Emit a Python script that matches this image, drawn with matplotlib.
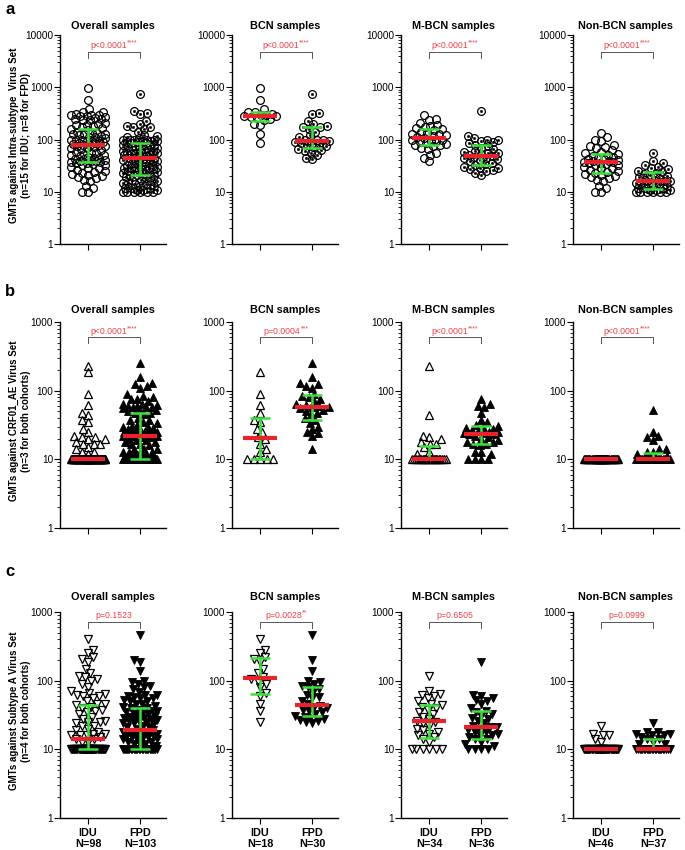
import numpy as np
import matplotlib
matplotlib.use("Agg")
import matplotlib.pyplot as plt
from matplotlib.ticker import LogLocator, NullFormatter, FixedLocator, FixedFormatter
from matplotlib.transforms import blended_transform_factory, offset_copy

plt.rcParams['font.family'] = ['Liberation Sans', 'DejaVu Sans']

# ---------------- data ----------------
groups = ["IDU", "FPD"]
n_labels = {"Overall": ("N=98", "N=103"), "BCN": ("N=18", "N=30"),
            "M-BCN": ("N=34", "N=36"), "Non-BCN": ("N=46", "N=37")}
panel_titles = ["Overall samples", "BCN samples", "M-BCN samples", "Non-BCN samples"]

# Row a: Intra-subtype virus set
a_bcn_idu = [950, 570, 390, 330, 330, 310, 300, 290, 280, 280, 270, 260, 250, 240, 200, 190, 130, 85]
a_bcn_fpd = [730, 320, 310, 230, 200, 185, 175, 170, 160, 140, 120, 110, 100, 98, 96, 94, 92, 90, 85, 80,
             78, 75, 72, 65, 62, 60, 55, 50, 45, 42]
a_mbcn_idu = [290, 250, 240, 210, 190, 180, 170, 165, 160, 150, 140, 135, 130, 125, 120, 115, 110, 105, 100, 98,
              95, 92, 90, 85, 82, 80, 78, 75, 70, 65, 55, 50, 45, 38]
a_mbcn_fpd = [350, 115, 105, 100, 98, 95, 90, 85, 80, 75, 70, 65, 60, 58, 56, 54, 52, 50, 48, 46,
              45, 44, 42, 40, 38, 36, 34, 32, 30, 29, 28, 27, 26, 25, 23, 21]
a_non_idu = [135, 110, 100, 95, 80, 75, 72, 68, 62, 58, 55, 52, 50, 48, 46, 45, 43, 42, 40, 39,
             38, 37, 37, 36, 35, 34, 33, 32, 30, 29, 28, 26, 25, 24, 23, 22, 21, 20, 19, 18,
             17, 16, 13, 12, 10, 10]
a_non_fpd = [55, 38, 35, 32, 30, 28, 27, 25, 24, 23, 22, 21, 20, 19, 18, 17, 17, 16, 16, 15,
             15, 14, 14, 13, 13, 12, 12, 12, 11, 11, 11, 10, 10, 10, 10, 10, 10]

# Row b: CRF01_AE virus set
b_bcn_idu = [185, 90, 62, 48, 38, 35, 28, 25, 21, 20, 17, 14, 13, 10, 10, 10, 10, 10]
b_bcn_fpd = [255, 160, 130, 125, 115, 110, 90, 85, 80, 75, 70, 65, 62, 60, 58, 57, 55, 52, 50, 48,
             45, 40, 38, 34, 30, 28, 25, 24, 22, 14]
b_mbcn_idu = [230, 44, 22, 21, 20, 18, 17, 17, 15, 13, 12, 10, 10, 10, 10, 10, 10, 10, 10, 10,
              10, 10, 10, 10, 10, 10, 10, 10, 10, 10, 10, 10, 10, 10]
b_mbcn_fpd = [75, 65, 60, 58, 48, 38, 35, 32, 31, 30, 29, 28, 27, 26, 25, 25, 24, 24, 23, 23,
              22, 21, 20, 19, 18, 18, 17, 17, 16, 13, 13, 12, 10, 10, 10, 10]
b_non_idu = [10, 10, 10, 10, 10, 10, 10, 10, 10, 10, 10, 10, 10, 10, 10, 10, 10, 10, 10, 10,
             10, 10, 10, 10, 10, 10, 10, 10, 10, 10, 10, 10, 10, 10, 10, 10, 10, 10, 10, 10,
             10, 10, 10, 10, 10, 10]
b_non_fpd = [53, 25, 22, 21, 19, 14, 14, 13, 13, 12, 11, 10, 10, 10, 10, 10, 10, 10, 10, 10,
             10, 10, 10, 10, 10, 10, 10, 10, 10, 10, 10, 10, 10, 10, 10, 10, 10]

# Row c: Subtype A virus set
c_bcn_idu = [410, 280, 250, 220, 210, 190, 150, 128, 112, 105, 100, 90, 82, 66, 60, 46, 36, 25]
c_bcn_fpd = [470, 200, 140, 100, 95, 90, 85, 80, 75, 68, 62, 58, 55, 50, 45, 43, 42, 40, 38, 36,
             35, 33, 31, 30, 29, 28, 27, 26, 25, 24]
c_mbcn_idu = [115, 70, 65, 62, 60, 55, 50, 46, 44, 42, 40, 38, 35, 33, 30, 28, 26, 25, 24, 22,
              20, 19, 18, 17, 16, 15, 14, 13, 10, 10, 10, 10, 10, 10]
c_mbcn_fpd = [185, 62, 60, 55, 52, 50, 45, 40, 36, 35, 33, 31, 29, 28, 26, 24, 22, 21, 21, 20,
              19, 18, 18, 17, 16, 16, 15, 14, 14, 13, 12, 11, 10, 10, 10, 10]
c_non_idu = [22, 17, 16, 16, 14, 13, 10, 10, 10, 10, 10, 10, 10, 10, 10, 10, 10, 10, 10, 10,
             10, 10, 10, 10, 10, 10, 10, 10, 10, 10, 10, 10, 10, 10, 10, 10, 10, 10, 10, 10,
             10, 10, 10, 10, 10, 10]
c_non_fpd = [24, 18, 18, 17, 17, 16, 16, 15, 14, 14, 13, 12, 12, 10, 10, 10, 10, 10, 10, 10,
             10, 10, 10, 10, 10, 10, 10, 10, 10, 10, 10, 10, 10, 10, 10, 10, 10]

p_texts = [
    ["p<0.0001", "p<0.0001", "p<0.0001", "p<0.0001"],
    ["p<0.0001", "p=0.0004", "p<0.0001", "p<0.0001"],
    ["p=0.1523", "p=0.0028", "p=0.6505", "p=0.0999"],
]
p_stars = [
    ["****", "****", "****", "****"],
    ["****", "***", "****", "****"],
    ["", "**", "", ""],
]
ylabels = [
    "GMTs against Intra-subtype  Virus Set\n(n=15 for IDU; n=8 for FPD)",
    "GMTs against CRF01_AE Virus Set\n(n=3 for both cohorts)",
    "GMTs against Subtype A Virus Set\n(n=4 for both cohorts)",
]
panel_letters = ["a", "b", "c"]

rows = [
    [(a_bcn_idu, a_bcn_fpd), (a_mbcn_idu, a_mbcn_fpd), (a_non_idu, a_non_fpd)],
    [(b_bcn_idu, b_bcn_fpd), (b_mbcn_idu, b_mbcn_fpd), (b_non_idu, b_non_fpd)],
    [(c_bcn_idu, c_bcn_fpd), (c_mbcn_idu, c_mbcn_fpd), (c_non_idu, c_non_fpd)],
]

# ---------------- layout ----------------
W, H = 685, 850
fig = plt.figure(figsize=(W / 100, H / 100), dpi=100)
renderer = fig.canvas.get_renderer()
col_left = [60, 232, 401, 573]
ax_w = 106
row_geom = [(35, 244, 10000), (322, 528, 1000), (612, 818, 1000)]
# offsets in px below axis top: p-text, bracket, bracket legs ; title offset above
row_brk = [(10, 17, 23, 9), (9, 15, 21, 12), (3, 10, 16, 15)]
markers = [("o", "o"), ("^", "^"), ("v", "v")]

RED = "#e8232b"
GREEN = "#3be03b"
PRED = "#f0404a"


def swarm(ax, xc, vals, diam=6.3, maxhalf=17):
    vals = np.asarray(vals, float)
    pts = ax.transData.transform(np.column_stack([np.full(len(vals), xc), vals]))
    ys = pts[:, 1]
    x0 = pts[0, 0]
    ks = np.arange(0.5, maxhalf + 0.01, 0.5)
    cA = [0.0]
    cB = [0.0]
    for k in ks:
        cA += [k, -k]
        cB += [-k, k]
    cA = np.array(cA)
    cB = np.array(cB)
    order = np.argsort(vals, kind="stable")
    px, py = [], []
    offs = np.zeros(len(vals))
    for j, i in enumerate(order):
        y = ys[i]
        cands = cA if j % 2 == 0 else cB
        c = 0.0
        if px:
            PX = np.array(px)
            PY = np.array(py)
            near = np.abs(PY - y) < diam
            if near.any():
                d = np.sqrt((PX[near][None, :] - cands[:, None]) ** 2 +
                            (PY[near][None, :] - y) ** 2).min(axis=1)
                ok = np.where(d >= diam)[0]
                c = cands[ok[0]] if len(ok) else cands[np.argmax(d)]
        offs[i] = c
        px.append(c)
        py.append(y)
    xd = ax.transData.inverted().transform(np.column_stack([x0 + offs, ys]))[:, 0]
    return xd


for r in range(3):
    top, bot, ymax = row_geom[r]
    hpx = bot - top
    subsets = rows[r]
    overall = (subsets[0][0] + subsets[1][0] + subsets[2][0],
               subsets[0][1] + subsets[1][1] + subsets[2][1])
    panels = [overall] + subsets
    keys = ["Overall", "BCN", "M-BCN", "Non-BCN"]
    for c in range(4):
        ax = fig.add_axes([col_left[c] / W, 1 - bot / H, ax_w / W, hpx / H])
        ax.set_yscale("log")
        ax.set_ylim(1, ymax)
        ax.set_xlim(0.46, 2.5)
        for s in ["top", "right"]:
            ax.spines[s].set_visible(False)
        for s in ["left", "bottom"]:
            ax.spines[s].set_linewidth(1.0)
        decs = [10 ** k for k in range(int(np.log10(ymax)) + 1)]
        ax.yaxis.set_major_locator(FixedLocator(decs))
        ax.yaxis.set_major_formatter(FixedFormatter([str(d) for d in decs]))
        ax.yaxis.set_minor_locator(LogLocator(base=10, subs=np.arange(2, 10)))
        ax.yaxis.set_minor_formatter(NullFormatter())
        ax.tick_params(axis="y", which="major", direction="out", length=4, width=0.8,
                       labelsize=7.2, pad=1)
        ax.tick_params(axis="y", which="minor", direction="out", length=2, width=0.6)
        ax.set_xticks([1, 2])
        ax.tick_params(axis="x", direction="out", length=4, width=0.8, pad=3)
        if r == 2:
            labs = n_labels[keys[c]]
            ax.set_xticklabels([f"{groups[0]}\n{labs[0]}", f"{groups[1]}\n{labs[1]}"],
                               fontsize=7.8, fontweight="bold", linespacing=1.15)
        else:
            ax.set_xticklabels([])

        for g in range(2):
            xc = g + 1
            vals = np.asarray(panels[c][g], float)
            xs = swarm(ax, xc, vals)
            mk = markers[r][g]
            if g == 0:
                ax.plot(xs, vals, linestyle="none", marker=mk, markersize=5.6,
                        markerfacecolor="none", markeredgecolor="black",
                        markeredgewidth=0.9, zorder=2, clip_on=False)
            else:
                if r == 0:
                    ax.plot(xs, vals, linestyle="none", marker="o", markersize=5.6,
                            markerfacecolor="none", markeredgecolor="black",
                            markeredgewidth=0.9, zorder=2, clip_on=False)
                    ax.plot(xs, vals, linestyle="none", marker="o", markersize=1.8,
                            markerfacecolor="black", markeredgecolor="black",
                            markeredgewidth=0.3, zorder=2, clip_on=False)
                else:
                    ax.plot(xs, vals, linestyle="none", marker=mk, markersize=5.4,
                            markerfacecolor="black", markeredgecolor="black",
                            markeredgewidth=0.6, zorder=2, clip_on=False)
            med = np.median(vals)
            q1, q3 = np.percentile(vals, [25, 75], method="weibull")
            ax.vlines(xc, q1, q3, color=GREEN, lw=1.8, zorder=4)
            ax.hlines([q1, q3], xc - 0.2, xc + 0.2, color=GREEN, lw=1.8, zorder=4)
            ax.hlines(med, xc - 0.33, xc + 0.33, color=RED, lw=3.0, zorder=5)

        # significance bracket
        t_off, b_off, l_off, ttl_off = row_brk[r]
        trans = blended_transform_factory(ax.transData, ax.transAxes)
        yb = 1 - b_off / hpx
        yl = 1 - l_off / hpx
        ax.plot([1, 1, 2, 2], [yl, yb, yb, yl], transform=trans, color="#555555",
                lw=0.7, clip_on=False, zorder=3)
        ytxt = 1 - t_off / hpx
        tm = ax.text(1.5, ytxt, p_texts[r][c], transform=trans, ha="left",
                     va="center", color=PRED, fontsize=6.3)
        ts = ax.text(1.5, ytxt, p_stars[r][c], transform=trans, ha="left",
                     va="center", color=PRED, fontsize=5.0)
        w1 = tm.get_window_extent(renderer).width
        w2 = ts.get_window_extent(renderer).width if p_stars[r][c] else 0.0
        tot = w1 + w2
        # shift both pieces so that the composite is centred on x=1.5
        tm.set_transform(offset_copy(trans, fig=fig, x=-tot / 2, y=0, units="dots"))
        ts.set_transform(offset_copy(trans, fig=fig, x=-tot / 2 + w1, y=2, units="dots"))

        ax.text(0.5, 1 + ttl_off / hpx, panel_titles[c], transform=ax.transAxes,
                ha="center", va="center", fontsize=7.8, fontweight="bold")

    # row label and panel letter
    fig.text(20 / W, 1 - ((top + bot) / 2 - 4) / H, ylabels[r], rotation=90,
             ha="center", va="center", fontsize=7, fontweight="bold",
             multialignment="center", linespacing=1.25)
    letter_y = [9, 292, 572][r]
    fig.text(5 / W, 1 - letter_y / H, panel_letters[r], ha="left", va="center",
             fontsize=12, fontweight="bold")

fig.savefig("out.png", dpi=100)
